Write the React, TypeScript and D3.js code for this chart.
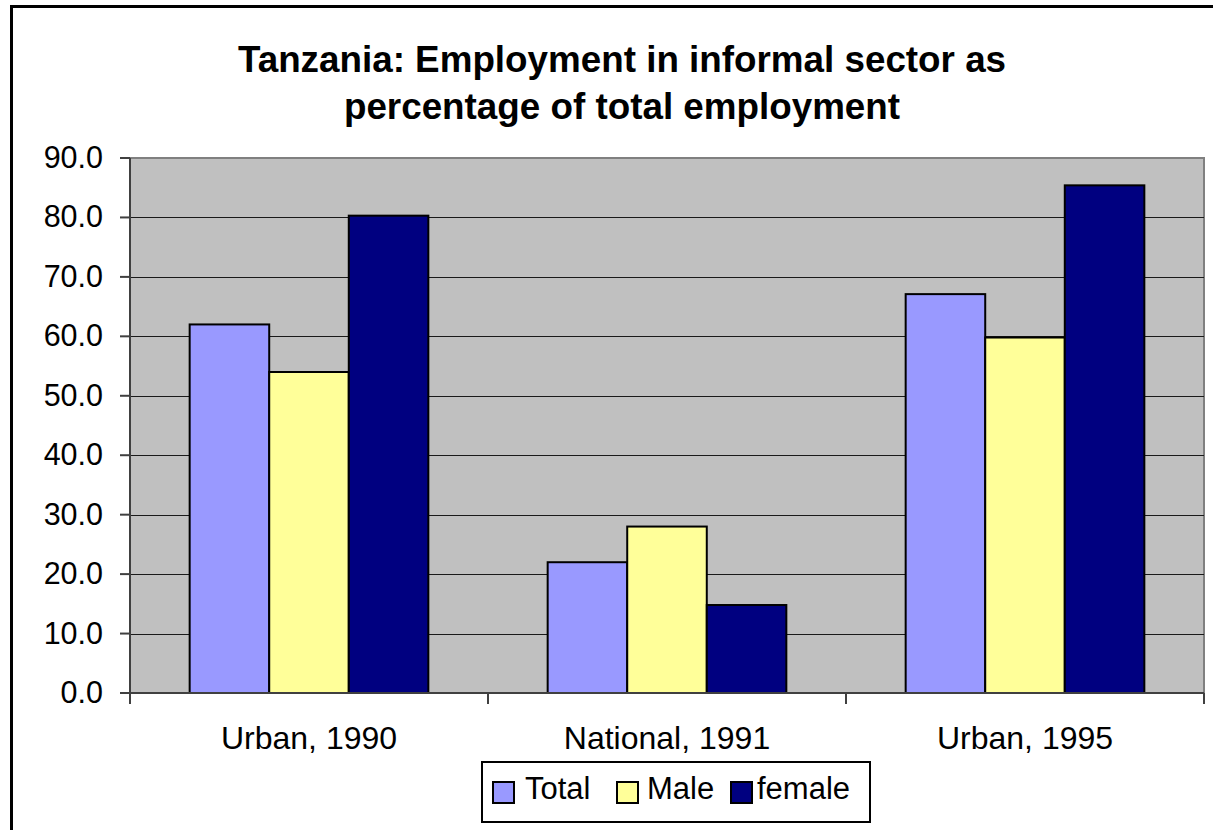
import React from "react";
import * as d3 from "d3";

const categories = ["Urban, 1990", "National, 1991", "Urban, 1995"];
const seriesNames = ["Total", "Male", "female"];
const totalValues = [62.0, 22.0, 67.1];
const maleValues = [54.0, 28.0, 59.8];
const femaleValues = [80.3, 14.8, 85.4];
const yTicks = [0, 10, 20, 30, 40, 50, 60, 70, 80, 90];
const seriesColors = ["#9999FF", "#FFFF99", "#000080"];

const W = 1213;
const H = 830;
const plot = { left: 130, top: 158, right: 1204, bottom: 693 };

export default function App() {
  const series = [totalValues, maleValues, femaleValues];
  const x = d3.scaleBand<string>().domain(categories).range([plot.left, plot.right]).padding(0);
  const bw = x.bandwidth();
  const barW = bw / 4.5;
  const inner = d3
    .scaleBand<string>()
    .domain(seriesNames)
    .range([barW * 0.75, bw - barW * 0.75])
    .padding(0);
  const y = d3.scaleLinear().domain([0, 90]).range([plot.bottom, plot.top]);
  const font = "Arial, 'Liberation Sans', Helvetica, sans-serif";

  const legendItems = [
    { name: seriesNames[0], sx: 493, tx: 525 },
    { name: seriesNames[1], sx: 617, tx: 647 },
    { name: seriesNames[2], sx: 731, tx: 757 },
  ];

  return (
    <svg
      width={W}
      height={H}
      style={{ position: "absolute", left: 0, top: 0, display: "block", background: "#fff" }}
      fontFamily={font}
    >
      <rect x={11.5} y={6.5} width={W + 20} height={H + 20} fill="#fff" stroke="#000" strokeWidth={3} />
      <text x={622} y={72} textAnchor="middle" fontSize={36.8} fontWeight="bold" fill="#000">
        Tanzania: Employment in informal sector as
      </text>
      <text x={622} y={119} textAnchor="middle" fontSize={36.8} fontWeight="bold" fill="#000">
        percentage of total employment
      </text>

      <rect
        x={plot.left}
        y={plot.top}
        width={plot.right - plot.left}
        height={plot.bottom - plot.top}
        fill="#C0C0C0"
        stroke="#808080"
        strokeWidth={2}
      />
      {yTicks.slice(1, -1).map((t) => (
        <line
          key={"g" + t}
          x1={plot.left}
          x2={plot.right}
          y1={Math.round(y(t)) + 0.5}
          y2={Math.round(y(t)) + 0.5}
          stroke="#1a1a1a"
          strokeWidth={1}
        />
      ))}

      {categories.map((c, ci) =>
        series.map((vals, si) => (
          <rect
            key={c + si}
            x={(x(c) as number) + (inner(seriesNames[si]) as number)}
            y={y(vals[ci])}
            width={inner.bandwidth()}
            height={y(0) - y(vals[ci])}
            fill={seriesColors[si]}
            stroke="#000"
            strokeWidth={2}
          />
        ))
      )}

      <line x1={plot.left} x2={plot.left} y1={plot.top} y2={plot.bottom} stroke="#404040" strokeWidth={2} />
      <line x1={plot.left} x2={plot.right} y1={plot.bottom} y2={plot.bottom} stroke="#404040" strokeWidth={2} />

      {yTicks.map((t) => (
        <g key={"t" + t}>
          <line x1={plot.left - 10} x2={plot.left} y1={y(t)} y2={y(t)} stroke="#404040" strokeWidth={2} />
          <text x={103} y={y(t) + 10} textAnchor="end" fontSize={30.5} fill="#000">
            {t.toFixed(1)}
          </text>
        </g>
      ))}

      {[...categories.map((c) => x(c) as number), plot.right].map((px, i) => (
        <line key={"xt" + i} x1={px} x2={px} y1={plot.bottom} y2={plot.bottom + 11} stroke="#404040" strokeWidth={2} />
      ))}
      {categories.map((c) => (
        <text key={c} x={(x(c) as number) + bw / 2} y={749} textAnchor="middle" fontSize={32} fill="#000">
          {c}
        </text>
      ))}

      <rect x={482} y={762} width={388} height={60} fill="#fff" stroke="#000" strokeWidth={2} />
      {legendItems.map((it, i) => (
        <g key={it.name}>
          <rect x={it.sx} y={782} width={21} height={21} fill={seriesColors[i]} stroke="#000" strokeWidth={2} />
          <text x={it.tx} y={799} fontSize={31} fill="#000">
            {it.name}
          </text>
        </g>
      ))}
    </svg>
  );
}
